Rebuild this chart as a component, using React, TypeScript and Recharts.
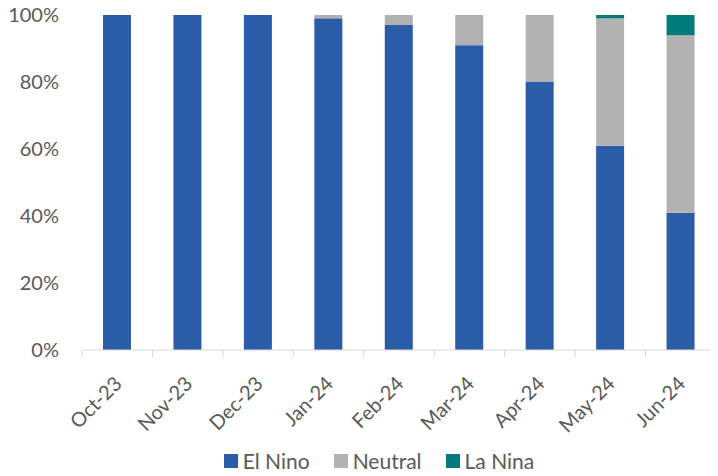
import React from 'react';
import { BarChart, Bar, XAxis, YAxis, Legend } from 'recharts';

const months = ['Oct-23', 'Nov-23', 'Dec-23', 'Jan-24', 'Feb-24', 'Mar-24', 'Apr-24', 'May-24', 'Jun-24'];
const elNino = [100, 100, 100, 99, 97, 91, 80, 61, 41];
const neutral = [0, 0, 0, 1, 3, 9, 20, 38, 53];
const laNina = [0, 0, 0, 0, 0, 0, 0, 1, 6];
const yTicks = [0, 20, 40, 60, 80, 100];

const seriesNames = ['El Nino', 'Neutral', 'La Nina'];
const seriesColors = ['#2A5CA8', '#B2B2B2', '#007A7A'];

const data = months.map((m, i) => ({
  month: m,
  elNino: elNino[i],
  neutral: neutral[i],
  laNina: laNina[i],
}));

const FONT = 'Lato, "Open Sans", sans-serif';
const TEXT = '#595959';
const AXIS = '#D9D9D9';

const W = 718;
const H = 476;
const LEFT = 82;
const RIGHT = 2;
const band = (W - LEFT - RIGHT) / months.length;

const MonthTick = (props: any) => {
  const { x, y, payload, index } = props;
  const half = band / 2;
  const tx = x + 6;
  const ty = y + 35;
  return (
    <g>
      <line x1={x - half} y1={y} x2={x - half} y2={y + 7} stroke={AXIS} />
      {index === months.length - 1 && <line x1={x + half} y1={y} x2={x + half} y2={y + 7} stroke={AXIS} />}
      <text
        x={tx}
        y={ty}
        transform={`rotate(-45, ${tx}, ${ty})`}
        textAnchor="end"
        fill={TEXT}
        fontSize={20}
        fontFamily={FONT}
      >
        {payload.value}
      </text>
    </g>
  );
};

const LegendRow = () => (
  <div style={{ display: 'flex', justifyContent: 'center', alignItems: 'center', fontFamily: FONT, fontSize: 21, color: TEXT, paddingLeft: 42 }}>
    {seriesNames.map((n, i) => (
      <div key={n} style={{ display: 'flex', alignItems: 'center', marginRight: i < seriesNames.length - 1 ? 24 : 0 }}>
        <span style={{ display: 'inline-block', width: 14, height: 14, background: seriesColors[i], marginRight: 5 }} />
        <span>{n}</span>
      </div>
    ))}
  </div>
);

const App: React.FC = () => {
  return (
    <div style={{ marginLeft: -8, marginTop: -8, width: W, height: H, background: '#fff' }}>
      <BarChart width={W} height={H} data={data} margin={{ top: 15, right: RIGHT, left: 0, bottom: 0 }}>
        <XAxis
          dataKey="month"
          stroke={AXIS}
          tickLine={false}
          tickSize={0}
          tickMargin={0}
          height={98}
          interval={0}
          tick={<MonthTick />}
        />
        <YAxis
          width={LEFT}
          domain={[0, 100]}
          ticks={yTicks}
          axisLine={false}
          tickLine={false}
          tickSize={0}
          tickMargin={23}
          tickFormatter={(v: number) => `${v}%`}
          tick={{ fill: TEXT, fontSize: 20, fontFamily: FONT }}
        />
        <Legend verticalAlign="bottom" height={28} content={<LegendRow />} />
        <Bar dataKey="elNino" name={seriesNames[0]} stackId="a" fill={seriesColors[0]} barSize={28} isAnimationActive={false} />
        <Bar dataKey="neutral" name={seriesNames[1]} stackId="a" fill={seriesColors[1]} barSize={28} isAnimationActive={false} />
        <Bar dataKey="laNina" name={seriesNames[2]} stackId="a" fill={seriesColors[2]} barSize={28} isAnimationActive={false} />
      </BarChart>
    </div>
  );
};

export default App;
